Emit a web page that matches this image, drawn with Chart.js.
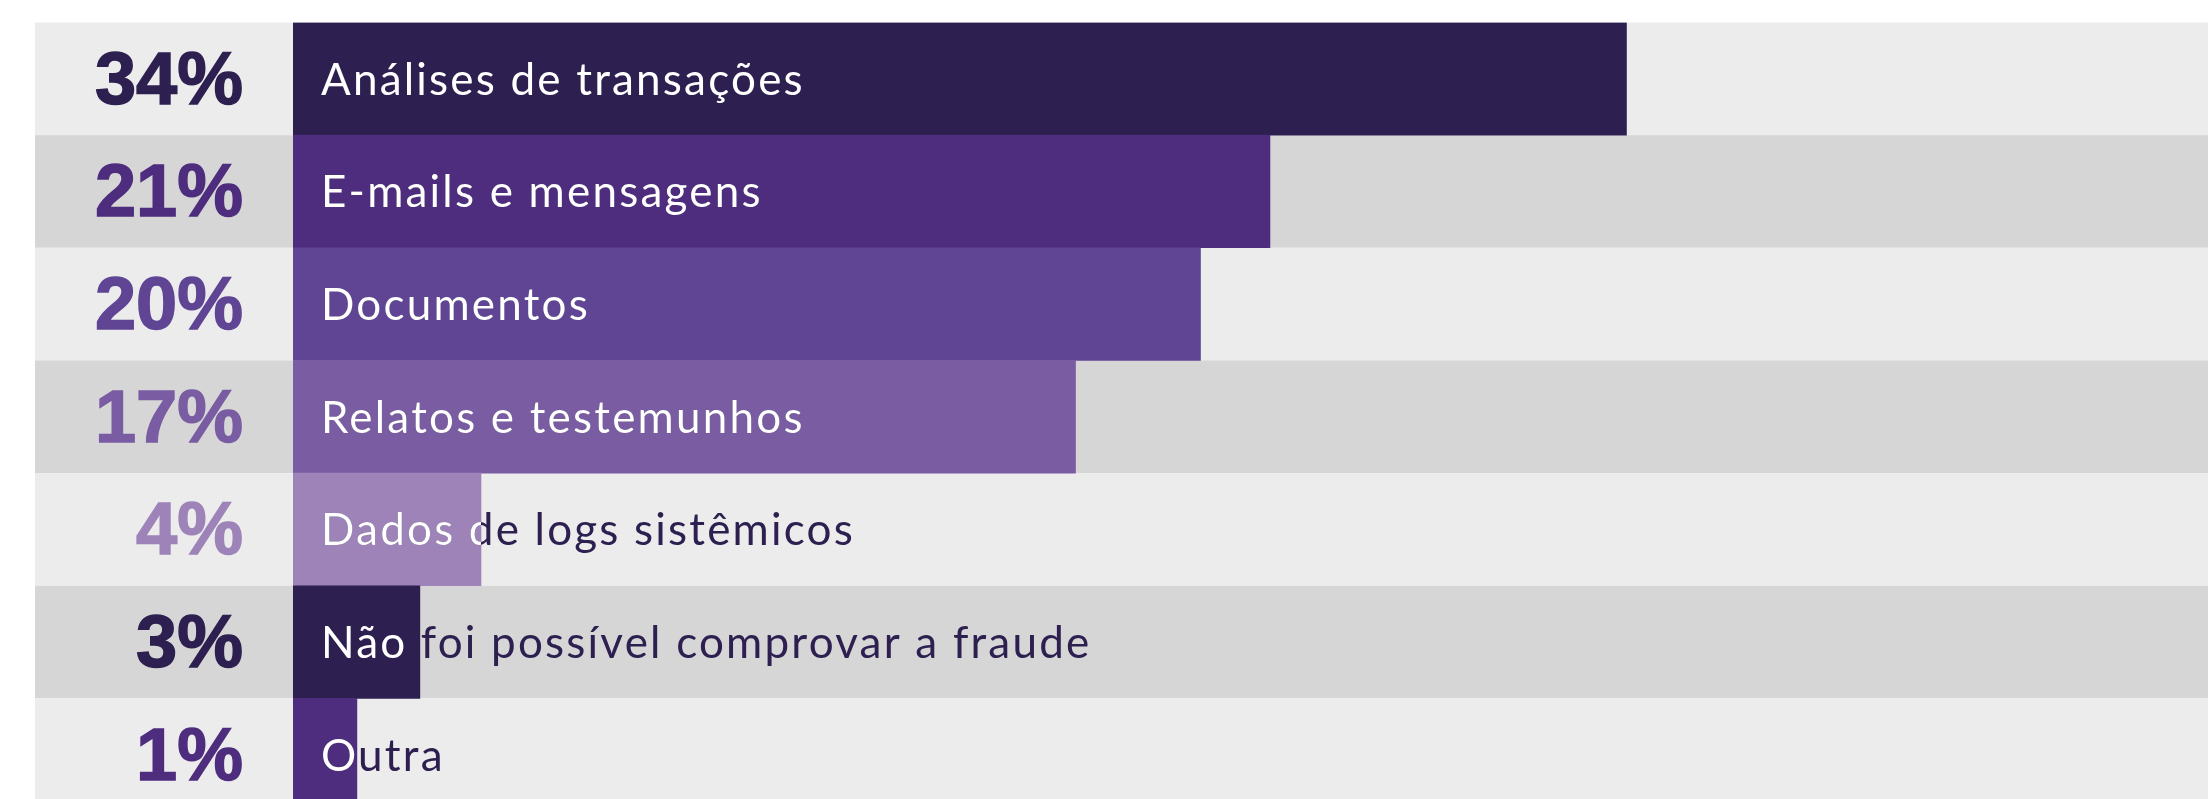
<!DOCTYPE html>
<html>
<head>
<meta charset="utf-8">
<script src="https://cdn.jsdelivr.net/npm/chart.js@4/dist/chart.umd.min.js"></script>
<style>
  html, body { margin: 0; padding: 0; background: #ffffff; overflow: hidden; }
  #wrap { position: absolute; left: 0; top: 0; width: 2208px; height: 811px; }
</style>
</head>
<body>
<div id="wrap"><canvas id="chartCanvas"></canvas></div>
<script>
var categories = [
  "Análises de transações",
  "E-mails e mensagens",
  "Documentos",
  "Relatos e testemunhos",
  "Dados de logs sistêmicos",
  "Não foi possível comprovar a fraude",
  "Outra"
];
// share shown on the left
var shares = [34, 21, 20, 17, 4, 3, 1];
// bar lengths as drawn in the picture (same % scale)
var barValues = [28.8, 21.1, 19.6, 16.9, 4.06, 2.74, 1.38];
var barColors = ["#2d2050", "#4e2d7e", "#5f4594", "#7a5ca3", "#9e83b9", "#2d2050", "#4e2d7e"];
var rowColors = ["#ececec", "#d6d6d6"];
var axisMax = 41.36;

var ctx = document.getElementById("chartCanvas").getContext("2d");

var rowsPlugin = {
  id: "rows",
  beforeDatasetsDraw: function (chart) {
    var c = chart.ctx;
    var area = chart.chartArea;
    var yScale = chart.scales.y;
    var h = (area.bottom - area.top) / categories.length;
    c.save();
    for (var i = 0; i < categories.length; i++) {
      var y = yScale.getPixelForValue(i);
      c.fillStyle = rowColors[i % 2];
      c.fillRect(35, y - h / 2, chart.width - 35, h);
    }
    c.restore();
  }
};

var labelsPlugin = {
  id: "labels",
  afterDatasetsDraw: function (chart) {
    var c = chart.ctx;
    var area = chart.chartArea;
    var meta = chart.getDatasetMeta(0);
    var h = (area.bottom - area.top) / categories.length;
    for (var i = 0; i < meta.data.length; i++) {
      var bar = meta.data[i];
      var y = bar.y;

      // percentage on the left
      c.save();
      c.font = "bold 74px 'Liberation Sans'";
      c.textAlign = "right";
      c.textBaseline = "alphabetic";
      c.fillStyle = barColors[i];
      c.strokeStyle = barColors[i];
      c.lineWidth = 1.5;
      c.fillText(shares[i] + "%", 243, y + 25);
      c.strokeText(shares[i] + "%", 243, y + 25);
      c.restore();

      // category name: dark outside the bar, white on top of it
      c.save();
      c.font = "44px Lato";
      c.letterSpacing = "2.2px";
      c.textAlign = "left";
      c.textBaseline = "alphabetic";
      c.fillStyle = "#2d2050";
      c.fillText(categories[i], bar.base + 28, y + 16);
      c.beginPath();
      c.rect(bar.base, y - h / 2, bar.x - bar.base, h);
      c.clip();
      c.fillStyle = "#ffffff";
      c.fillText(categories[i], bar.base + 28, y + 16);
      c.restore();
    }
  }
};

var chart = new Chart(ctx, {
  type: "bar",
  data: {
    labels: categories,
    datasets: [
      {
        data: barValues,
        backgroundColor: barColors,
        borderWidth: 0,
        barPercentage: 1,
        categoryPercentage: 1
      }
    ]
  },
  options: {
    indexAxis: "y",
    responsive: true,
    maintainAspectRatio: false,
    animation: false,
    layout: {
      padding: { left: 293, top: 22.5, right: 0, bottom: 0 }
    },
    scales: {
      x: { display: false, min: 0, max: axisMax, grid: { display: false } },
      y: { display: false, grid: { display: false } }
    },
    plugins: {
      legend: { display: false },
      tooltip: { enabled: false }
    }
  },
  plugins: [rowsPlugin, labelsPlugin]
});
</script>
</body>
</html>
